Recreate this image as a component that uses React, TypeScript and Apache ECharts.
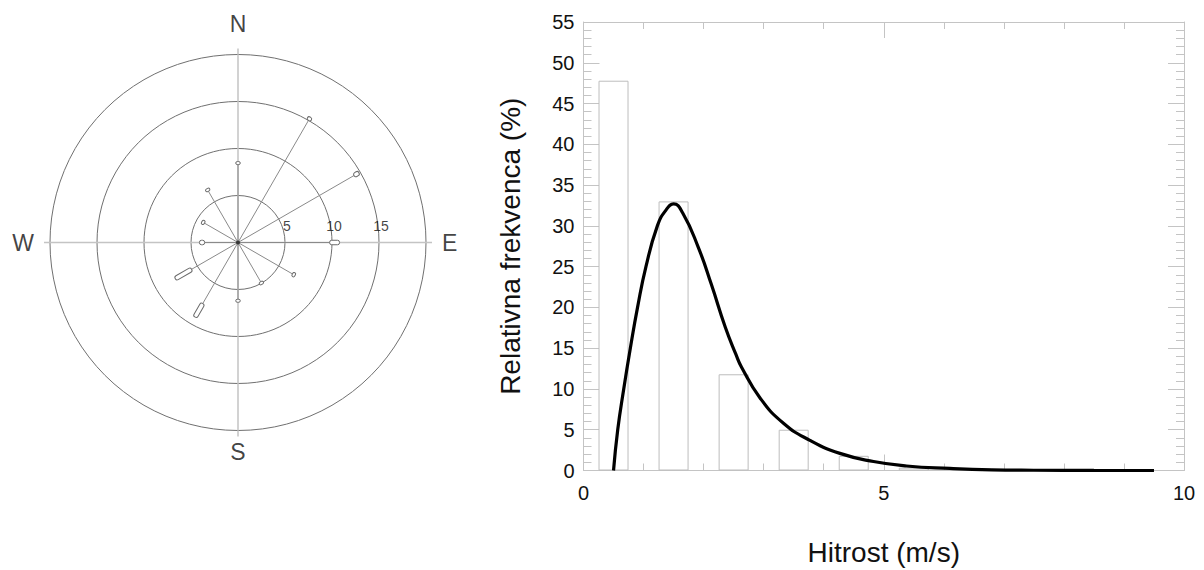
import React, { useEffect, useRef } from "react";
import * as echarts from "echarts";

// ---------- Wind rose data ----------
const directions = [0, 30, 60, 90, 120, 150, 180, 210, 240, 270, 300, 330]; // bearing, degrees
const boxStart = [8.3, 15.0, 14.25, 9.75, 6.7, 4.85, 6.1, 7.5, 5.7, 3.55, 4.15, 6.3]; // %
const boxEnd = [8.6, 15.4, 14.85, 10.8, 7.0, 5.1, 6.3, 9.15, 7.7, 4.1, 4.4, 6.6]; // %
const ringLabels = [5, 10, 15];
const compass = [
  { name: "N", angle: 0 },
  { name: "E", angle: 90 },
  { name: "S", angle: 180 },
  { name: "W", angle: 270 },
];

// ---------- Histogram data ----------
const binCenters = [0.5, 1.5, 2.5, 3.5, 4.5, 5.5];
const binFreq = [47.8, 33.0, 11.8, 5.0, 1.8, 0.35];

// ---------- Fitted curve ----------
const curveX = [0.5, 0.57, 0.67, 0.78, 0.9, 1.04, 1.23, 1.37, 1.5, 1.65, 1.91, 2.13, 2.36, 2.54, 2.63, 2.94, 3.33, 3.77, 4.27, 4.83, 5.38, 6.1, 6.8, 7.5, 8.5, 9.5];
const curveY = [0, 5, 10, 15, 20, 25, 30, 31.9, 32.7, 31.6, 27.4, 22.8, 17.6, 14.2, 12.7, 8.9, 5.8, 3.7, 2.1, 1.1, 0.55, 0.25, 0.08, 0.03, 0.01, 0];

const FONT = "'Liberation Sans', Arial, Helvetica, sans-serif";
const GRID_LINE = "#c4c4c4";

export default function App() {
  const ref = useRef<HTMLDivElement>(null);

  useEffect(() => {
    if (!ref.current) return;
    const chart = echarts.init(ref.current, null, { renderer: "svg" });

    const spokeData = directions.map((a, i) => [boxEnd[i], a, boxStart[i]]);

    const compassLabelCfg: Record<string, any> = {
      N: { position: "top", distance: 19 },
      E: { position: "right", distance: 16 },
      S: { position: "bottom", distance: 10 },
      W: { position: "left", distance: 16 },
    };

    const option: any = {
      animation: false,
      textStyle: { fontFamily: FONT },
      polar: { center: [238, 242.5], radius: 188 },
      angleAxis: {
        type: "value",
        min: 0,
        max: 360,
        interval: 90,
        startAngle: 90,
        clockwise: true,
        axisLine: { show: false },
        axisTick: { show: true, length: 6, lineStyle: { color: GRID_LINE, width: 1.5 } },
        axisLabel: { show: false },
        splitLine: { show: true, lineStyle: { color: GRID_LINE, width: 1.5 } },
      },
      radiusAxis: {
        type: "value",
        min: 0,
        max: 20,
        interval: 5,
        axisLine: { show: false },
        axisTick: { show: false },
        axisLabel: { show: false },
        splitLine: { show: true, lineStyle: { color: "#707070", width: 1 } },
      },
      grid: { left: 583.5, right: 20, top: 22, bottom: 99.5, outerBoundsMode: "none" },
      xAxis: [
        {
          type: "value",
          min: 0,
          max: 10,
          interval: 5,
          position: "bottom",
          axisLine: { show: true, onZero: false, lineStyle: { color: GRID_LINE } },
          axisTick: { show: true, inside: true, length: 16, lineStyle: { color: GRID_LINE } },
          minorTick: { show: true, splitNumber: 5, length: 7, lineStyle: { color: GRID_LINE } },
          splitLine: { show: false },
          axisLabel: { color: "#111", fontSize: 20, margin: 12, fontFamily: FONT },
          name: "Hitrost (m/s)",
          nameLocation: "middle",
          nameGap: 68,
          nameTextStyle: { color: "#111", fontSize: 28, fontFamily: FONT },
        },
        {
          type: "value",
          min: 0,
          max: 10,
          interval: 5,
          position: "top",
          axisLine: { show: true, onZero: false, lineStyle: { color: GRID_LINE } },
          axisTick: { show: true, inside: true, length: 16, lineStyle: { color: GRID_LINE } },
          minorTick: { show: true, splitNumber: 5, length: 7, lineStyle: { color: GRID_LINE } },
          splitLine: { show: false },
          axisLabel: { show: false },
        },
      ],
      yAxis: [
        {
          type: "value",
          min: 0,
          max: 55,
          interval: 5,
          position: "left",
          axisLine: { show: true, onZero: false, lineStyle: { color: GRID_LINE } },
          axisTick: { show: true, inside: true, length: 16, lineStyle: { color: GRID_LINE } },
          minorTick: { show: true, splitNumber: 5, length: 8, lineStyle: { color: GRID_LINE } },
          splitLine: { show: false },
          axisLabel: { color: "#111", fontSize: 20, margin: 9, fontFamily: FONT },
          name: "Relativna frekvenca (%)",
          nameLocation: "middle",
          nameGap: 59,
          nameTextStyle: { color: "#111", fontSize: 28, fontFamily: FONT },
        },
        {
          type: "value",
          min: 0,
          max: 55,
          interval: 5,
          position: "right",
          axisLine: { show: true, onZero: false, lineStyle: { color: GRID_LINE } },
          axisTick: { show: true, inside: true, length: 16, lineStyle: { color: GRID_LINE } },
          minorTick: { show: true, splitNumber: 5, length: 8, lineStyle: { color: GRID_LINE } },
          splitLine: { show: false },
          axisLabel: { show: false },
        },
      ],
      series: [
        // wind rose spokes with boxes
        {
          type: "custom",
          coordinateSystem: "polar",
          data: spokeData,
          encode: { radius: 0, angle: 1 },
          z: 5,
          renderItem: (params: any, api: any) => {
            const rEnd = api.value(0);
            const ang = api.value(1);
            const rStart = api.value(2);
            const p0 = api.coord([0, ang]);
            const p1 = api.coord([rStart, ang]);
            const p2 = api.coord([rEnd, ang]);
            const dx = p2[0] - p1[0];
            const dy = p2[1] - p1[1];
            const len = Math.max(Math.sqrt(dx * dx + dy * dy), 3);
            const w = 4.5;
            const rot = -Math.atan2(p2[1] - p0[1], p2[0] - p0[0]);
            return {
              type: "group",
              children: [
                {
                  type: "line",
                  shape: { x1: p0[0], y1: p0[1], x2: p1[0], y2: p1[1] },
                  style: { stroke: "#8a8a8a", lineWidth: 1 },
                },
                {
                  type: "rect",
                  x: (p1[0] + p2[0]) / 2,
                  y: (p1[1] + p2[1]) / 2,
                  rotation: rot,
                  shape: { x: -len / 2, y: -w / 2, width: len, height: w, r: 2 },
                  style: { fill: "#ffffff", stroke: "#6a6a6a", lineWidth: 1 },
                },
              ],
            };
          },
        },
        // center dot
        {
          type: "scatter",
          coordinateSystem: "polar",
          data: [[0, 0]],
          symbol: "circle",
          symbolSize: 4,
          itemStyle: { color: "#222" },
          z: 6,
          silent: true,
        },
        // ring labels
        {
          type: "scatter",
          coordinateSystem: "polar",
          data: ringLabels.map((r) => [r, 90]),
          symbolSize: 0,
          silent: true,
          label: {
            show: true,
            position: "top",
            distance: 10,
            offset: [2, 0],
            color: "#111",
            fontSize: 14,
            fontFamily: FONT,
            formatter: (p: any) => String(p.value[0]),
          },
        },
        // compass labels
        {
          type: "scatter",
          coordinateSystem: "polar",
          symbolSize: 0,
          silent: true,
          data: compass.map((c) => ({
            value: [20, c.angle],
            name: c.name,
            label: compassLabelCfg[c.name],
          })),
          label: {
            show: true,
            color: "#111",
            fontSize: 23,
            fontFamily: FONT,
            formatter: (p: any) => p.name,
          },
        },
        // histogram
        {
          type: "bar",
          xAxisIndex: 0,
          yAxisIndex: 0,
          barWidth: 30,
          data: binCenters.map((x, i) => [x, binFreq[i]]),
          itemStyle: { color: "#ffffff", borderColor: "#bdbdbd", borderWidth: 1 },
          silent: true,
        },
        // fitted curve
        {
          type: "line",
          xAxisIndex: 0,
          yAxisIndex: 0,
          data: curveX.map((x, i) => [x, curveY[i]]),
          smooth: 0.5,
          showSymbol: false,
          symbol: "none",
          lineStyle: { color: "#000", width: 3.2 },
          z: 10,
          silent: true,
        },
      ],
    };

    chart.setOption(option);
    return () => chart.dispose();
  }, []);

  return (
    <div
      ref={ref}
      style={{ position: "fixed", left: 0, top: 0, width: 1204, height: 570, background: "#fff" }}
    />
  );
}
